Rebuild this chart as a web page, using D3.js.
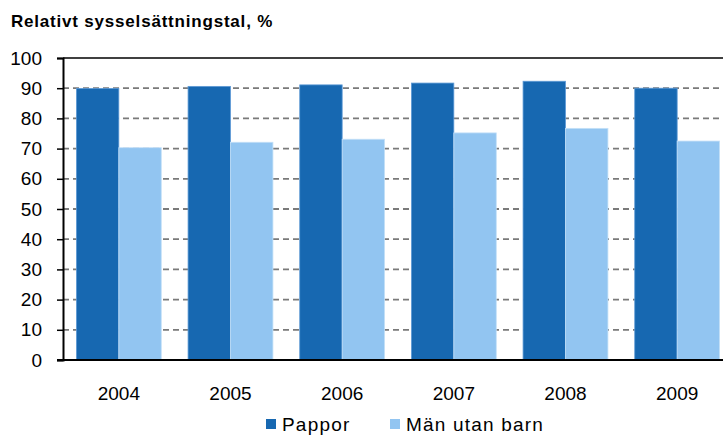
<!DOCTYPE html>
<html>
<head>
<meta charset="utf-8">
<script src="https://cdn.jsdelivr.net/npm/d3@7"></script>
<style>
  body { margin: 0; background: #fff; }
  text { font-family: "Liberation Sans", Arial, sans-serif; fill: #000; }
</style>
</head>
<body>
<div id="chart"></div>
<script>
(function() {

    var width = 723,
        height = 439;

    // data
    var years = ["2004", "2005", "2006", "2007", "2008", "2009"];
    var seriesNames = ["Pappor", "Män utan barn"];
    var pappor = [89.9, 90.6, 91.1, 91.7, 92.3, 90.0];
    var manUtanBarn = [70.3, 72.1, 73.1, 75.2, 76.7, 72.5];
    var yTicks = [0, 10, 20, 30, 40, 50, 60, 70, 80, 90, 100];
    var colors = ["#1768b1", "#92c5f1"];

    var margin = {left: 63, top: 58, right: -10, bottom: 79};

    var svg = d3.select("#chart")
        .append("svg")
        .attr("width", width)
        .attr("height", height);

    var x0 = d3.scaleBand()
        .domain(years)
        .range([margin.left, width - margin.right])
        .paddingInner(0.24)
        .paddingOuter(0.12);

    var x1 = d3.scaleBand()
        .domain(seriesNames)
        .range([0, x0.bandwidth()]);

    var y = d3.scaleLinear()
        .domain([0, 100])
        .range([height - margin.bottom, margin.top]);

    // dashed grid lines
    svg.append("g")
        .selectAll("line")
        .data(yTicks.filter(function(d) { return d > 0 && d < 100; }))
        .enter().append("line")
        .attr("x1", margin.left)
        .attr("x2", width)
        .attr("y1", function(d) { return y(d); })
        .attr("y2", function(d) { return y(d); })
        .attr("stroke", "#7a7a7a")
        .attr("stroke-width", 1.8)
        .attr("stroke-dasharray", "6,4");

    var rows = years.map(function(yr, i) {
        return {year: yr, values: [pappor[i], manUtanBarn[i]]};
    });

    var groups = svg.selectAll(".group")
        .data(rows)
        .enter().append("g")
        .attr("class", "group")
        .attr("transform", function(d) { return "translate(" + x0(d.year) + ",0)"; });

    groups.selectAll("rect")
        .data(function(d) {
            return d.values.map(function(v, j) { return {name: seriesNames[j], value: v, j: j}; });
        })
        .enter().append("rect")
        .attr("x", function(d) { return x1(d.name); })
        .attr("width", x1.bandwidth())
        .attr("y", function(d) { return y(d.value); })
        .attr("height", function(d) { return y(0) - y(d.value); })
        .attr("fill", function(d) { return colors[d.j]; })
        .attr("stroke", function(d) { return d.j === 0 ? "#5e9ad6" : "#c4e0f8"; })
        .attr("stroke-width", 0.8);

    // top border
    svg.append("line")
        .attr("x1", margin.left).attr("x2", width)
        .attr("y1", y(100)).attr("y2", y(100))
        .attr("stroke", "#000").attr("stroke-width", 1.4);

    // y axis
    var yAxis = svg.append("g")
        .attr("transform", "translate(" + margin.left + ",0)")
        .call(d3.axisLeft(y).tickValues(yTicks).tickSize(6).tickPadding(15));
    yAxis.select(".domain").attr("stroke", "#000").attr("stroke-width", 2);
    yAxis.selectAll(".tick line").attr("stroke", "#000").attr("stroke-width", 1.5);
    yAxis.selectAll(".tick text")
        .style("font-size", "19px")
        .attr("fill", "#000");

    // x axis
    var xAxis = svg.append("g")
        .attr("transform", "translate(0," + y(0) + ")")
        .call(d3.axisBottom(x0).tickSize(0).tickPadding(27));
    xAxis.select(".domain").remove();
    xAxis.selectAll(".tick text")
        .style("font-size", "19px")
        .attr("fill", "#000");

    svg.append("line")
        .attr("x1", margin.left - 6).attr("x2", width)
        .attr("y1", y(0)).attr("y2", y(0))
        .attr("stroke", "#000").attr("stroke-width", 2);

    // title
    svg.append("text")
        .attr("x", 11)
        .attr("y", 27)
        .style("font-size", "17px")
        .style("font-weight", "bold")
        .style("letter-spacing", "0.8px")
        .text("Relativt sysselsättningstal, %");

    // legend
    var legendX = [266, 390];
    var legend = svg.selectAll(".legend")
        .data(seriesNames)
        .enter().append("g")
        .attr("class", "legend")
        .attr("transform", function(d, i) { return "translate(" + legendX[i] + ",419)"; });

    legend.append("rect")
        .attr("width", 10)
        .attr("height", 10)
        .attr("fill", function(d, i) { return colors[i]; });

    legend.append("text")
        .attr("x", 16)
        .attr("y", 12)
        .style("font-size", "19px")
        .style("letter-spacing", "1.2px")
        .text(function(d) { return d; });

})();
</script>
</body>
</html>
